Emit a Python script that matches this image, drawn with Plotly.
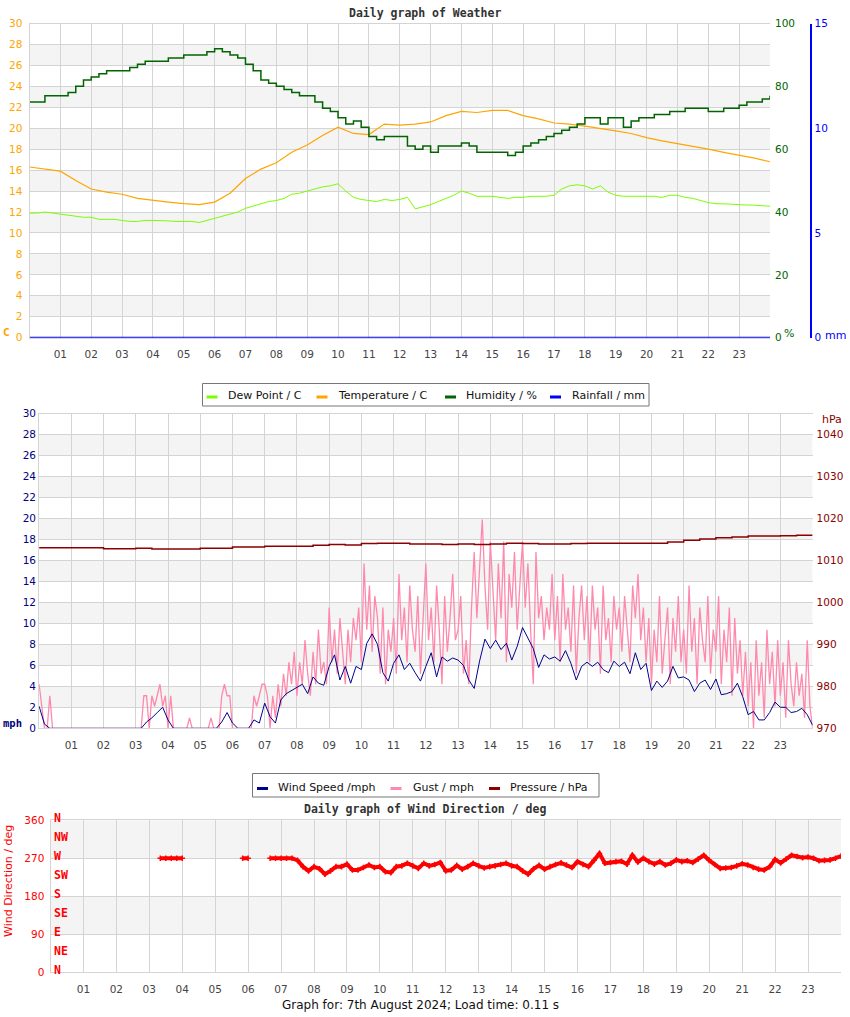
import plotly.graph_objects as go

W, H = 850, 1017
def py(p):
    return 1 - p / H
def pxx(p):
    return p / W

# ---------------- DATA ----------------
hour_ticks = list(range(1, 24))
hour_labels = ["%02d" % h for h in hour_ticks]

# Panel 1 (every 30 min) temperature
t30 = [i * 0.5 for i in range(49)]
temperature = [16.3, 16.1, 15.9, 15.0, 14.2, 13.9, 13.7, 13.3, 13.1, 12.95, 12.8, 12.7,
               12.95, 13.8, 15.2, 16.1, 16.7, 17.7, 18.4, 19.3, 20.1, 19.5, 19.4, 20.4,
               20.3, 20.4, 20.6, 21.2, 21.6, 21.5, 21.7, 21.7, 21.2, 20.9, 20.5, 20.4,
               20.2, 20.0, 19.75, 19.5, 19.1, 18.8, 18.55, 18.3, 18.0, 17.7, 17.45, 17.15, 16.8]

# every 15 min
t15 = [i * 0.25 for i in range(97)]
humidity = [75, 75, 77, 77, 77, 78, 80, 82, 83, 84, 85, 85, 85, 86, 87, 88,
            88, 88, 89, 89, 90, 90, 90, 91, 92, 91, 90, 89, 87, 85, 82, 81,
            80, 79, 78, 77, 77, 75, 73, 72, 70, 68, 69, 67, 64, 63, 64, 64,
            64, 61, 60, 61, 59, 61, 61, 61, 62, 61, 59, 59, 59, 59, 58, 59,
            61, 62, 63, 64, 65, 66, 67, 68, 70, 70, 68, 70, 70, 67, 69, 70,
            70, 71, 71, 72, 72, 73, 73, 73, 72, 72, 73, 73, 74, 75, 75, 76, 77]
dew_point = [11.9, 11.9, 12.0, 11.9, 11.8, 11.7, 11.6, 11.5, 11.5, 11.3, 11.3, 11.3,
             11.2, 11.1, 11.1, 11.2, 11.2, 11.2, 11.15, 11.1, 11.1, 11.1, 11.0, 11.2,
             11.45, 11.65, 11.85, 12.0, 12.35, 12.55, 12.8, 13.0, 13.1, 13.3, 13.7, 13.8,
             14.0, 14.2, 14.4, 14.5, 14.7, 14.0, 13.4, 13.2, 13.1, 13.0, 13.2, 13.1,
             13.2, 13.4, 12.3, 12.5, 12.7, 13.0, 13.3, 13.6, 14.0, 13.8, 13.5, 13.5,
             13.5, 13.4, 13.3, 13.4, 13.4, 13.5, 13.5, 13.5, 13.6, 14.2, 14.5, 14.6,
             14.5, 14.2, 14.5, 13.9, 13.6, 13.5, 13.5, 13.5, 13.5, 13.5, 13.4, 13.6,
             13.6, 13.4, 13.3, 13.1, 12.9, 12.8, 12.8, 12.75, 12.7, 12.7, 12.65, 12.6, 12.55]
t_rain = list(range(25))
rainfall = [0] * 25

# Panel 2
pressure = [1013.0, 1013.0, 1013.0, 1013.0, 1012.8, 1012.8, 1012.9, 1012.7, 1012.7, 1012.7,
            1012.9, 1012.9, 1013.2, 1013.2, 1013.4, 1013.4, 1013.4, 1013.6, 1013.8, 1013.7,
            1014.0, 1014.1, 1014.1, 1013.9, 1013.9, 1013.8, 1013.9, 1013.8, 1013.9, 1014.1,
            1014.0, 1013.9, 1013.9, 1014.0, 1014.1, 1014.1, 1014.1, 1014.1, 1014.1, 1014.4,
            1014.8, 1015.1, 1015.4, 1015.6, 1015.8, 1015.8, 1015.9, 1016.0, 1016.0]

t10 = [i / 6 for i in range(145)]
wind_speed = [2.1, 0.4, 0, 0, 0, 0,
              0, 0, 0, 0, 0, 0,
              0, 0, 0, 0, 0, 0,
              0, 0, 0.6, 1.0, 1.5, 2.0,
              0.8, 0, 0, 0, 0, 0,
              0, 0, 0, 0, 0.6, 1.5,
              0.5, 0, 0, 0, 0.8, 0.5,
              2.4, 1.1, 0.5, 2.7, 3.3, 3.6,
              3.9, 4.2, 3.3, 4.9, 4.3, 4.1,
              5.9, 7.0, 4.6, 5.9, 4.3, 5.9,
              5.6, 8.1, 9.0, 8.0, 5.3, 4.5,
              6.2, 7.0, 5.6, 6.2, 5.3, 4.5,
              5.9, 7.2, 4.9, 6.8, 6.4, 6.7,
              6.5, 6.0, 4.6, 3.8, 6.4, 8.5,
              7.6, 8.4, 7.5, 8.1, 6.5, 7.8,
              9.6, 8.6, 7.6, 5.8, 7.0, 6.6,
              6.8, 6.4, 7.4, 6.2, 4.6, 5.9,
              6.3, 5.9, 6.3, 5.6, 5.3, 6.4,
              5.9, 6.3, 5.2, 7.2, 5.6, 6.2,
              3.6, 4.5, 3.9, 4.5, 5.9, 4.8,
              4.9, 4.6, 3.5, 4.3, 4.6, 3.7,
              4.7, 3.2, 3.3, 3.5, 4.3, 3.0,
              1.3, 1.6, 0.8, 0.8, 1.5, 2.5,
              2.0, 2.0, 1.5, 1.6, 1.9, 1.3,
              0.3]

t5 = [i / 12 for i in range(289)]
gust = [4.2, 2.1, 0, 0, 3.1, 0, 0, 0, 0, 0, 0, 0,
        0, 0, 0, 0, 0, 0, 0, 0, 0, 0, 0, 0,
        0, 0, 0, 0, 0, 0, 0, 0, 0, 0, 0, 0,
        0, 0, 0, 3.1, 3.1, 0, 3.1, 2.1, 3.1, 4.2, 2.1, 3.1,
        0, 3.1, 0, 0, 0, 0, 0, 0, 1.0, 0, 0, 0,
        0, 0, 0, 0, 1.0, 0, 0, 0, 3.1, 4.2, 3.1, 3.1,
        0, 0, 0, 0, 0, 0, 0, 0, 3.1, 2.1, 3.1, 4.2,
        4.2, 3.1, 0, 3.1, 1.0, 4.2, 2.1, 5.2, 3.1, 6.3, 4.2, 7.3,
        3.1, 6.3, 4.2, 8.4, 5.2, 3.1, 7.3, 4.2, 9.4, 5.2, 6.3, 4.2,
        11.5, 6.3, 9.4, 5.2, 10.5, 7.3, 4.2, 9.4, 6.3, 10.5, 8.4, 11.5,
        6.3, 15.7, 9.4, 13.6, 7.3, 12.6, 10.5, 5.2, 11.5, 4.2, 9.4, 7.3,
        10.5, 5.2, 14.7, 8.4, 11.5, 6.3, 13.6, 9.4, 7.3, 12.6, 5.2, 10.5,
        15.7, 8.4, 11.5, 6.3, 13.6, 9.4, 4.2, 12.6, 7.3, 10.5, 14.7, 8.4,
        9.4, 12.6, 5.2, 8.4, 4.2, 11.5, 16.8, 10.5, 14.7, 19.9, 13.6, 9.4,
        17.8, 12.6, 8.4, 15.7, 10.5, 17.8, 6.3, 14.7, 11.5, 16.8, 9.4, 13.6,
        17.8, 11.5, 15.7, 9.4, 4.2, 16.8, 10.5, 12.6, 8.4, 11.5, 9.4, 14.7,
        8.4, 12.6, 6.3, 14.7, 9.4, 11.5, 7.3, 13.6, 5.2, 10.5, 13.6, 8.4,
        12.6, 6.3, 13.6, 9.4, 11.5, 5.2, 13.6, 8.4, 10.5, 6.3, 12.6, 9.4,
        11.5, 7.3, 12.6, 9.4, 6.3, 13.6, 10.5, 14.7, 8.4, 11.5, 6.3, 10.5,
        4.2, 9.4, 6.3, 12.6, 5.2, 8.4, 11.5, 4.2, 10.5, 7.3, 12.6, 6.3,
        9.4, 5.2, 13.6, 7.3, 10.5, 4.2, 11.5, 8.4, 6.3, 12.6, 5.2, 9.4,
        7.3, 12.6, 4.2, 9.4, 6.3, 11.5, 3.1, 10.5, 5.2, 8.4, 3.1, 7.3,
        2.1, 6.3, 0, 8.4, 3.1, 6.3, 1.0, 9.4, 4.2, 7.3, 2.1, 8.4,
        3.1, 6.3, 1.0, 8.4, 4.2, 2.1, 6.3, 3.1, 5.2, 1.0, 8.4, 2.1,
        0]

# Panel 3 (every 10 min, None = no reading)
N = None
wind_dir = [N, N, N, N, N, N,
            N, N, N, N, N, N,
            N, N, N, N, N, N,
            N, N, 270, 270, 270, 270,
            270, N, N, N, N, N,
            N, N, N, N, N, 270,
            270, N, N, N, 270, 270,
            270, 270, 270, 265, 250, 240,
            250, 245, 232, 240, 250, 250,
            256, 242, 242, 248, 254, 248,
            250, 238, 236, 250, 252, 258,
            252, 246, 258, 252, 255, 260,
            240, 242, 253, 244, 250, 258,
            252, 247, 250, 252, 255, 258,
            252, 250, 240, 232, 245, 253,
            244, 250, 255, 259, 254, 248,
            262, 255, 250, 265, 281, 258,
            260, 262, 263, 256, 277, 261,
            270, 262, 256, 262, 254, 258,
            266, 262, 264, 260, 268, 277,
            265, 255, 246, 247, 248, 252,
            257, 254, 248, 244, 242, 250,
            267, 259, 268, 277, 274, 271,
            273, 270, 264, 265, 266, 270,
            275]
compass_deg = [0, 45, 90, 135, 180, 225, 270, 315, 360]
compass_txt = ["N", "NE", "E", "SE", "S", "SW", "W", "NW", "N"]

names1 = ["Dew Point / C", "Temperature / C", "Humidity / %", "Rainfall / mm"]
names2 = ["Wind Speed /mph", "Gust / mph", "Pressure / hPa"]

# ---------------- STYLE ----------------
GRID = "#d4d4d4"
BAND = "#f4f4f4"
TICKF = dict(family="DejaVu Sans", size=10.5, color="#444")
MONO = "DejaVu Sans Mono"
C_DEW, C_TEMP, C_HUM, C_RAIN = "#7cfc00", "#ffa500", "#006400", "#0000ff"
C_WIND, C_GUST, C_PRES = "#00008b", "#ff89ad", "#8b0000"

dom1x = [pxx(29.5), pxx(770)]
dom1y = [py(337.7), py(23.5)]
dom2x = [pxx(39.1), pxx(812.6)]
dom2y = [py(728.3), py(413.5)]
dom3x = [pxx(50.5), pxx(841)]
dom3y = [py(972.3), py(820.2)]

fig = go.Figure()

# Panel 1 traces
fig.add_trace(go.Scatter(x=t15, y=dew_point, name=names1[0], mode="lines",
                         line=dict(color=C_DEW, width=1), xaxis="x", yaxis="y"))
fig.add_trace(go.Scatter(x=t30, y=temperature, name=names1[1], mode="lines",
                         line=dict(color=C_TEMP, width=1.2), xaxis="x", yaxis="y"))
fig.add_trace(go.Scatter(x=t15, y=humidity, name=names1[2], mode="lines", line_shape="hv",
                         line=dict(color=C_HUM, width=1.5), xaxis="x", yaxis="y2"))
fig.add_trace(go.Scatter(x=t_rain, y=rainfall, name=names1[3], mode="lines",
                         line=dict(color=C_RAIN, width=2), xaxis="x", yaxis="y3", cliponaxis=False))

# Panel 2 traces (gust drawn beneath wind speed)
fig.add_trace(go.Scatter(x=t5, y=gust, name=names2[1], mode="lines",
                         line=dict(color=C_GUST, width=1.3), xaxis="x2", yaxis="y4"))
fig.add_trace(go.Scatter(x=t10, y=wind_speed, name=names2[0], mode="lines",
                         line=dict(color=C_WIND, width=1), xaxis="x2", yaxis="y4"))
fig.add_trace(go.Scatter(x=t30, y=pressure, name=names2[2], mode="lines", line_shape="hv",
                         line=dict(color=C_PRES, width=1.5), xaxis="x2", yaxis="y5"))

# Panel 3 trace
fig.add_trace(go.Scatter(x=t10, y=wind_dir, name="Wind Direction", mode="lines+markers",
                         line=dict(color="#ff0000", width=4),
                         marker=dict(color="#ff0000", size=4, symbol="cross-thin",
                                     line=dict(color="#ff0000", width=1.5)),
                         connectgaps=False, xaxis="x3", yaxis="y6"))

def xax(domain, anchor):
    return dict(domain=domain, anchor=anchor, range=[0, 24], tickvals=hour_ticks, ticktext=hour_labels,
                showgrid=True, gridcolor=GRID, gridwidth=1, zeroline=False, showline=True, linecolor=GRID,
                mirror=True, ticks="", ticklabelstandoff=7, tickfont=TICKF, fixedrange=True)

def yax(domain, anchor, rng, dtick, color, standoff):
    return dict(domain=domain, anchor=anchor, range=rng, dtick=dtick, tick0=rng[0], showgrid=True,
                gridcolor=GRID, zeroline=False, showline=True, linecolor=GRID, ticks="",
                ticklabelstandoff=standoff, tickfont=dict(family="DejaVu Sans", size=10.5, color=color))

shapes = []
for lo in range(2, 30, 4):
    shapes.append(dict(type="rect", xref="x", yref="y", x0=0, x1=24, y0=lo, y1=lo + 2,
                       fillcolor=BAND, line_width=0, layer="below"))
    shapes.append(dict(type="rect", xref="x2", yref="y4", x0=0, x1=24, y0=lo, y1=lo + 2,
                       fillcolor=BAND, line_width=0, layer="below"))
for lo in (90, 270):
    shapes.append(dict(type="rect", xref="x3", yref="y6", x0=0, x1=24, y0=lo, y1=lo + 90,
                       fillcolor=BAND, line_width=0, layer="below"))

ann = []
def note(text, x, y, color="#333", size=11, family="DejaVu Sans", xanchor="center", **kw):
    d = dict(text=text, x=pxx(x), y=py(y), xref="paper", yref="paper", showarrow=False,
             xanchor=xanchor, yanchor="middle", font=dict(family=family, size=size, color=color))
    d.update(kw)
    ann.append(d)

note("<b>Daily graph of Weather</b>", 425, 13, family=MONO, size=11.5)
note("<b>Daily graph of Wind Direction / deg</b>", 425, 809, family=MONO, size=11.5)
note("Graph for: 7th August 2024; Load time: 0.11 s", 420.5, 1005, color="#111", size=12)
note("<b>C</b>", 6, 332.5, color=C_TEMP, family=MONO, size=11)
note("%", 789, 333, color=C_HUM, size=11)
note("mm", 835, 335, color=C_RAIN, size=11)
note("hPa", 832, 419, color=C_PRES, size=11)
note("<b>mph</b>", 12, 723, color="#000080", family=MONO, size=10.5)
note("Wind Direction / deg", 8, 881, color="#ff0000", size=11, textangle=-90)
for d, t in zip(compass_deg, compass_txt):
    ann.append(dict(text="<b>%s</b>" % t, x=pxx(52), y=d, xref="paper", yref="y6", showarrow=False,
                    xanchor="left", yanchor="middle", yshift=2,
                    font=dict(family=MONO, size=11.5, color="#ff0000")))

# Boxed legends below panels 1 and 2
def legend_box(x0, x1, top, bottom, entries, sym_y):
    shapes.append(dict(type="rect", xref="paper", yref="paper", x0=pxx(x0), x1=pxx(x1),
                       y0=py(bottom), y1=py(top), line=dict(color="#777", width=1),
                       fillcolor="white", layer="above"))
    for sx, tx, color, label in entries:
        shapes.append(dict(type="line", xref="paper", yref="paper", x0=pxx(sx), x1=pxx(sx + 11),
                           y0=py(sym_y + 1.5), y1=py(sym_y + 1.5), line=dict(color=color, width=3),
                           layer="above"))
        note(label, tx, sym_y, color="#111", size=11, xanchor="left")

legend_box(202.5, 649, 383.5, 406, [
    (206.5, 226, C_DEW, names1[0]),
    (316.5, 335.5, C_TEMP, names1[1]),
    (445, 464, C_HUM, names1[2]),
    (550, 569.5, C_RAIN, names1[3]),
], 395.5)
legend_box(252.5, 599, 773.5, 797, [
    (257, 275.5, C_WIND, names2[0]),
    (390.5, 410.5, C_GUST, names2[1]),
    (489, 508, C_PRES, names2[2]),
], 787)

fig.update_layout(
    width=W, height=H, margin=dict(l=0, r=0, t=0, b=0, pad=0, autoexpand=False), autosize=False,
    paper_bgcolor="white", plot_bgcolor="white", showlegend=False,
    xaxis=xax(dom1x, "y"),
    yaxis=yax(dom1y, "x", [0, 30], 2, C_TEMP, 4),
    yaxis2=dict(domain=dom1y, anchor="x", overlaying="y", side="right", range=[0, 100], dtick=20,
                showgrid=False, zeroline=False, showline=False, ticks="", ticklabelstandoff=4,
                tickfont=dict(family="DejaVu Sans", size=10.5, color=C_HUM)),
    yaxis3=dict(domain=dom1y, anchor="free", overlaying="y", side="right", position=pxx(810.7),
                range=[0, 15], dtick=5, showgrid=False, zeroline=False, showline=True, linecolor=C_RAIN,
                linewidth=1.5, ticks="", ticklabelstandoff=1,
                tickfont=dict(family="DejaVu Sans", size=10.5, color=C_RAIN)),
    xaxis2=xax(dom2x, "y4"),
    yaxis4=yax(dom2y, "x2", [0, 30], 2, "#000080", 0),
    yaxis5=dict(domain=dom2y, anchor="x2", overlaying="y4", side="right", range=[970, 1045],
                tickvals=[970, 980, 990, 1000, 1010, 1020, 1030, 1040], showgrid=False, zeroline=False,
                showline=False, ticks="", ticklabelstandoff=3,
                tickfont=dict(family="DejaVu Sans", size=10.5, color=C_PRES)),
    xaxis3=xax(dom3x, "y6"),
    yaxis6=dict(domain=dom3y, anchor="x3", range=[0, 360], tickvals=[0, 90, 180, 270, 360], showgrid=True,
                gridcolor=GRID, zeroline=False, showline=True, linecolor=GRID, ticks="",
                ticklabelstandoff=3, tickfont=dict(family="DejaVu Sans", size=10.5, color="#ff0000")),
    shapes=shapes,
    annotations=ann,
)

fig.write_html("out.html")
